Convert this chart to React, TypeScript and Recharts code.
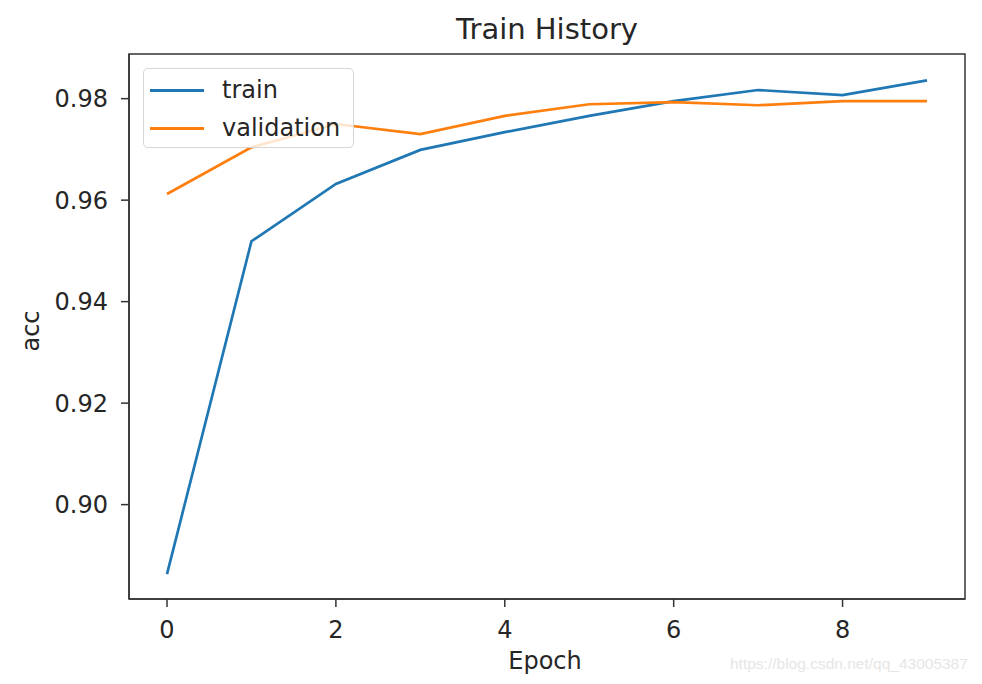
import React from "react";
import { LineChart, Line, XAxis, YAxis, ReferenceArea } from "recharts";

const epochs = [0, 1, 2, 3, 4, 5, 6, 7, 8, 9];
const trainAcc = [0.8863, 0.9519, 0.9632, 0.9699, 0.9734, 0.9766, 0.9795, 0.9817, 0.9807, 0.9836];
const valAcc = [0.9612, 0.9704, 0.975, 0.973, 0.9766, 0.9789, 0.9793, 0.9787, 0.9795, 0.9795];
const xTicks = [0, 2, 4, 6, 8];
const yTicks = [0.9, 0.92, 0.94, 0.96, 0.98];
const xDomain = [-0.45, 9.45];
const yDomain = [0.8814, 0.9888];

const data = epochs.map((e, i) => ({ epoch: e, train: trainAcc[i], validation: valAcc[i] }));

const FONT = "DejaVu Sans";
const AX = "#333333";
const TXT = "#262626";

export default function App() {
  return (
    <div style={{ position: "relative", width: 982, height: 684, margin: -8, background: "#fff", fontFamily: FONT }}>
      <LineChart width={982} height={684} data={data} margin={{ top: 54, right: 17, left: 0, bottom: 0 }}>
        <XAxis
          dataKey="epoch"
          type="number"
          domain={xDomain}
          ticks={xTicks}
          height={85}
          tickSize={8}
          tickMargin={14}
          stroke={AX}
          axisLine={{ stroke: AX, strokeWidth: 1.5 }}
          tickLine={{ stroke: AX, strokeWidth: 1.5 }}
          tick={{ fontSize: 24, fill: TXT, fontFamily: FONT }}
          allowDataOverflow
        />
        <YAxis
          type="number"
          domain={yDomain}
          ticks={yTicks}
          width={129}
          tickSize={8}
          tickMargin={13}
          stroke={AX}
          axisLine={{ stroke: AX, strokeWidth: 1.5 }}
          tickLine={{ stroke: AX, strokeWidth: 1.5 }}
          tick={{ fontSize: 24, fill: TXT, fontFamily: FONT }}
          tickFormatter={(v: number) => v.toFixed(2)}
          allowDataOverflow
        />
        <ReferenceArea
          x1={xDomain[0]}
          x2={xDomain[1]}
          y1={yDomain[0]}
          y2={yDomain[1]}
          fill="none"
          fillOpacity={0}
          stroke={AX}
          strokeWidth={1.5}
          ifOverflow="visible"
        />
        <Line dataKey="train" stroke="#1f77b4" strokeWidth={2.7} dot={false} isAnimationActive={false} type="linear" />
        <Line dataKey="validation" stroke="#ff7f0e" strokeWidth={2.7} dot={false} isAnimationActive={false} type="linear" />
      </LineChart>

      <div style={{ position: "absolute", left: 0, width: 1094, top: 12, fontSize: 29, color: TXT, textAlign: "center", lineHeight: "34px", whiteSpace: "nowrap" }}>
        Train History
      </div>
      <div style={{ position: "absolute", left: 345, width: 400, top: 647, fontSize: 24, color: TXT, textAlign: "center", lineHeight: "28px" }}>
        Epoch
      </div>
      <div style={{ position: "absolute", left: 31, top: 331, transform: "translate(-50%, -50%) rotate(-90deg)", fontSize: 24, color: TXT, lineHeight: "28px", whiteSpace: "nowrap" }}>
        acc
      </div>

      <div style={{ position: "absolute", left: 143, top: 68, width: 211, height: 80, boxSizing: "border-box", border: "1.5px solid #d6d6d6", borderRadius: 5, background: "rgba(255,255,255,0.8)" }}>
        {[
          { name: "train", color: "#1f77b4", y: 21 },
          { name: "validation", color: "#ff7f0e", y: 59 },
        ].map((it) => (
          <div key={it.name} style={{ position: "absolute", left: 0, top: it.y - 14, height: 28, width: 210 }}>
            <div style={{ position: "absolute", left: 6, top: 12.5, width: 54, height: 3, background: it.color }} />
            <div style={{ position: "absolute", left: 78, top: 0, fontSize: 24, lineHeight: "28px", color: TXT, whiteSpace: "nowrap" }}>{it.name}</div>
          </div>
        ))}
      </div>

      <div style={{ position: "absolute", left: 730, top: 654, fontSize: 15.5, fontFamily: "Liberation Sans", color: "#e6e6e6", whiteSpace: "nowrap", lineHeight: "20px" }}>
        https://blog.csdn.net/qq_43005387
      </div>
    </div>
  );
}
